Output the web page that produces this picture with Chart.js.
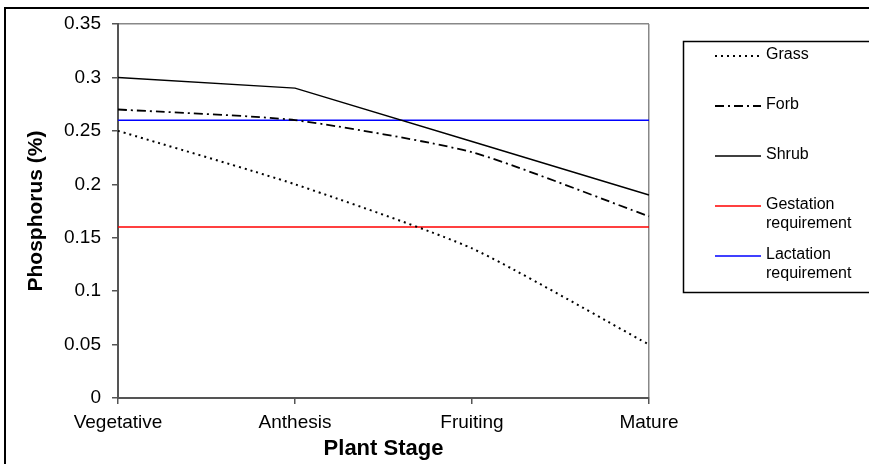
<!DOCTYPE html>
<html>
<head>
<meta charset="utf-8">
<script src="https://cdn.jsdelivr.net/npm/chart.js@4/dist/chart.umd.min.js"></script>
<style>
  html, body { margin: 0; padding: 0; background: #fff; }
  #wrap { width: 869px; height: 464px; position: relative; }
</style>
</head>
<body>
<div id="wrap"><canvas id="phChart" width="869" height="464"></canvas></div>
<script>
// values
const stages = ['Vegetative', 'Anthesis', 'Fruiting', 'Mature'];
const grass = [0.25, 0.20, 0.14, 0.05];
const forb = [0.27, 0.26, 0.23, 0.17];
const shrub = [0.30, 0.29, 0.24, 0.19];
const gestation = [0.16, 0.16, 0.16, 0.16];
const lactation = [0.26, 0.26, 0.26, 0.26];
const legendText = [['Grass'], ['Forb'], ['Shrub'], ['Gestation', 'requirement'], ['Lactation', 'requirement']];

const FONT = 'Liberation Sans, Arial, sans-serif';

// legend box + outer frame, drawn by hand to get the two-line labels
const boxLegend = {
    id: 'boxLegend',
    afterDraw(chart) {
        const ctx = chart.ctx;
        ctx.save();
        // outer frame (top + left only are visible)
        ctx.strokeStyle = '#000';
        ctx.lineWidth = 2;
        ctx.beginPath();
        ctx.moveTo(5, 470);
        ctx.lineTo(5, 8);
        ctx.lineTo(875, 8);
        ctx.stroke();

        // legend frame
        ctx.lineWidth = 1.5;
        ctx.strokeRect(683.5, 41.5, 200, 251);

        ctx.font = '16px ' + FONT;
        ctx.fillStyle = '#000';
        ctx.textBaseline = 'middle';
        chart.data.datasets.forEach(function(ds, i) {
            let y = 56 + i * 50;
            ctx.strokeStyle = ds.borderColor;
            ctx.lineWidth = ds.borderWidth;
            ctx.setLineDash(ds.borderDash || []);
            ctx.beginPath();
            ctx.moveTo(715, y);
            ctx.lineTo(761, y);
            ctx.stroke();
            ctx.setLineDash([]);
            legendText[i].forEach(function(t, j) {
                ctx.fillText(t, 766, y - 1 + j * 19);
            });
        });
        ctx.restore();
    }
};

var ctx = document.getElementById('phChart').getContext('2d');
var chart = new Chart(ctx, {
    type: 'line',
    data: {
        labels: stages,
        datasets: [{
            label: 'Grass',
            data: grass,
            borderColor: '#000',
            borderWidth: 2,
            borderDash: [2, 4],
            tension: 0.2
        }, {
            label: 'Forb',
            data: forb,
            borderColor: '#000',
            borderWidth: 1.8,
            borderDash: [9, 4, 2, 4],
            tension: 0.2
        }, {
            label: 'Shrub',
            data: shrub,
            borderColor: '#000',
            borderWidth: 1.4,
            tension: 0
        }, {
            label: 'Gestation requirement',
            data: gestation,
            borderColor: '#ff0000',
            borderWidth: 1.5
        }, {
            label: 'Lactation requirement',
            data: lactation,
            borderColor: '#0000ff',
            borderWidth: 1.5
        }]
    },
    options: {
        responsive: false,
        animation: false,
        elements: { point: { radius: 0 } },
        layout: { padding: { left: 0, top: 24, right: 220, bottom: 0 } },
        plugins: {
            legend: { display: false },
            tooltip: { enabled: false }
        },
        scales: {
            x: {
                type: 'category',
                offset: false,
                afterFit: function(scale) { scale.height = 66; },
                border: { color: '#555', width: 2 },
                grid: {
                    color: function(c) { return c.index === 3 ? '#888' : 'rgba(0,0,0,0)'; },
                    tickColor: '#555',
                    tickLength: 6,
                    lineWidth: 1.5
                },
                ticks: {
                    color: '#000',
                    font: { family: FONT, size: 19 },
                    padding: 7,
                    maxRotation: 0,
                    autoSkip: false
                },
                title: {
                    display: true,
                    text: 'Plant Stage',
                    color: '#000',
                    font: { family: FONT, size: 22, weight: 'bold' },
                    padding: { top: 0, bottom: 2 }
                }
            },
            y: {
                min: 0,
                max: 0.35,
                afterFit: function(scale) { scale.width = 118; },
                border: { color: '#555', width: 2 },
                grid: {
                    color: function(c) { return c.tick && c.tick.value > 0.349 ? '#888' : 'rgba(0,0,0,0)'; },
                    tickColor: '#555',
                    tickLength: 6,
                    lineWidth: 1.5
                },
                ticks: {
                    stepSize: 0.05,
                    color: '#000',
                    padding: 11,
                    font: { family: FONT, size: 19 },
                    callback: function(value) {
                        return parseFloat(value.toFixed(2)).toString();
                    }
                },
                title: {
                    display: true,
                    text: 'Phosphorus (%)',
                    color: '#000',
                    font: { family: FONT, size: 21, weight: 'bold' },
                    padding: { top: 24, bottom: 0 }
                }
            }
        }
    },
    plugins: [boxLegend]
});
</script>
</body>
</html>
